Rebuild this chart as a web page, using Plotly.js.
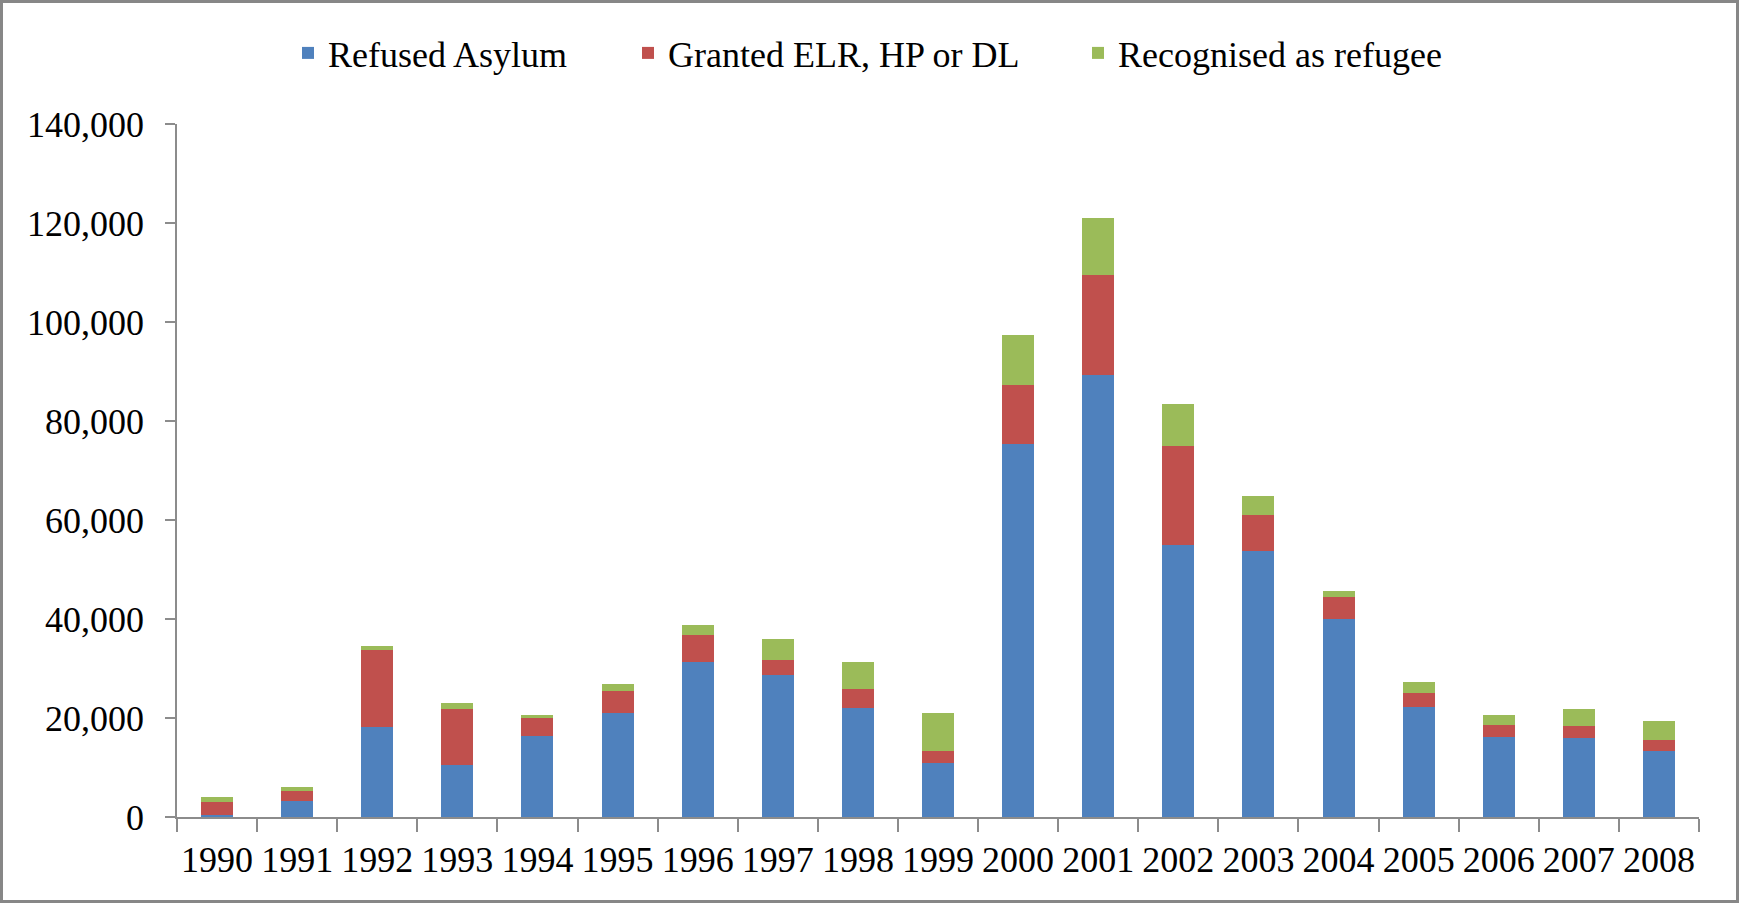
<!DOCTYPE html>
<html>
<head>
<meta charset="utf-8">
<script src="https://cdn.plot.ly/plotly-3.0.1.min.js"></script>
<style>
  html, body { margin: 0; padding: 0; background: #ffffff; }
  #wrap { position: relative; width: 1739px; height: 903px; }
  #chart { width: 1739px; height: 903px; }
  #frame { position: absolute; left: 0; top: 0; width: 1739px; height: 903px; box-sizing: border-box; border: 3px solid #878787; pointer-events: none; }
</style>
</head>
<body>
<div id="wrap">
  <div id="chart"></div>
  <div id="frame"></div>
</div>
<script>
const years = ['1990','1991','1992','1993','1994','1995','1996','1997','1998','1999','2000','2001','2002','2003','2004','2005','2006','2007','2008'];
const refusedAsylum = [500, 3300, 18200, 10600, 16400, 21100, 31400, 28700, 22000, 10900, 75300, 89300, 54900, 53800, 40100, 22300, 16200, 15900, 13300];
const grantedELR = [2500, 2000, 15500, 11200, 3600, 4400, 5300, 3100, 3900, 2400, 11900, 20200, 20100, 7300, 4300, 2800, 2400, 2400, 2200];
const recognisedRefugee = [1000, 800, 900, 1300, 700, 1400, 2100, 4200, 5500, 7800, 10100, 11500, 8400, 3800, 1300, 2200, 2000, 3500, 3800];
const seriesNames = ['Refused Asylum', 'Granted ELR, HP or DL', 'Recognised as refugee'];
const seriesColors = ['#4F81BD', '#C0504D', '#9BBB59'];

const FONT = 'Liberation Serif, Times New Roman, serif';
const axisGray = '#8c8c8c';

const traces = [refusedAsylum, grantedELR, recognisedRefugee].map((vals, i) => ({
  type: 'bar',
  name: seriesNames[i],
  x: years,
  y: vals,
  marker: { color: seriesColors[i] },
  legend: i === 0 ? 'legend' : 'legend' + (i + 1),
  hoverinfo: 'x+y+name'
}));

function legendAt(textStartPx) {
  return {
    xref: 'container', yref: 'container',
    x: (textStartPx - 40) / 1739, xanchor: 'left',
    y: 1 - 53 / 903, yanchor: 'middle',
    orientation: 'h',
    font: { family: FONT, size: 36, color: '#000000' },
    bgcolor: 'rgba(0,0,0,0)', borderwidth: 0
  };
}

const layout = {
  width: 1739, height: 903,
  margin: { l: 177, r: 40, t: 124, b: 86 },
  paper_bgcolor: '#ffffff', plot_bgcolor: '#ffffff',
  barmode: 'stack', bargap: 0.6,
  font: { family: FONT, size: 36, color: '#000000' },
  showlegend: true,
  legend: legendAt(328),
  legend2: legendAt(668),
  legend3: legendAt(1118),
  xaxis: {
    type: 'category',
    showline: true, linecolor: axisGray, linewidth: 1.5,
    ticks: 'outside', tickson: 'boundaries', ticklen: 13, tickcolor: axisGray, tickwidth: 1.5,
    tickangle: 0,
    ticklabelstandoff: 10,
    tickfont: { family: FONT, size: 36, color: '#000000' },
    showgrid: false, zeroline: false
  },
  yaxis: {
    range: [0, 140000], dtick: 20000, tick0: 0,
    tickformat: ',d',
    showline: true, linecolor: axisGray, linewidth: 1.5,
    ticks: 'outside', ticklen: 10, tickcolor: axisGray, tickwidth: 1.5,
    ticklabelstandoff: 14,
    tickfont: { family: FONT, size: 36, color: '#000000' },
    showgrid: false, zeroline: false
  }
};

Plotly.newPlot('chart', traces, layout, { displayModeBar: false, staticPlot: false });
</script>
</body>
</html>
